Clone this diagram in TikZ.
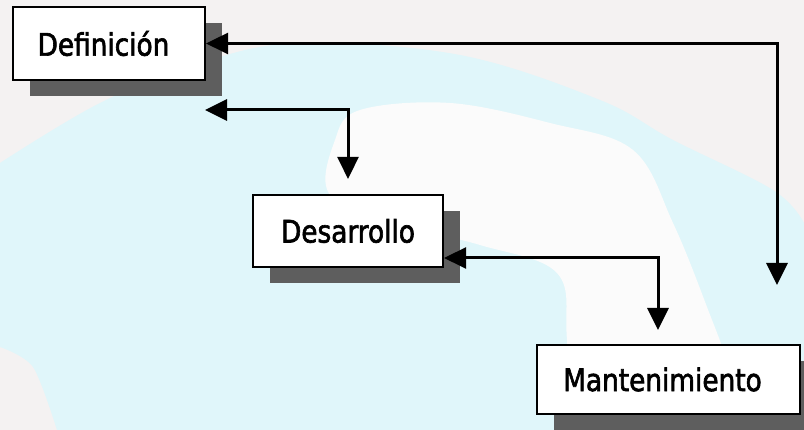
\documentclass[tikz,border=0pt]{standalone}
\usepackage{fontspec}
\newfontfamily\boxfont{DejaVu Sans}[FakeStretch=0.85, FakeBold=2]
\usetikzlibrary{arrows.meta,shadows,calc}
\definecolor{bgc}{HTML}{F4F2F2}
\definecolor{cyanbg}{HTML}{E0F6FA}
\definecolor{swoosh}{HTML}{FBFBFB}
\definecolor{shadowc}{HTML}{5E5E5E}
\tikzset{
  phase/.style={draw=black, line width=2.2pt, fill=white, inner sep=0pt,
    font=\boxfont\fontsize{31}{36}\selectfont,
    drop shadow={shadow xshift=17pt, shadow yshift=-16pt, fill=shadowc, opacity=1}},
  link/.style={line width=3pt, {Triangle[length=22pt,width=21pt]}-{Triangle[length=22pt,width=21pt]}}
}
\begin{document}
\begin{tikzpicture}[x=1pt,y=1pt]
\useasboundingbox (0,0) rectangle (804,-430);
\begin{scope}
\clip (0,0) rectangle (804,-430);
\fill[bgc] (0,0) rectangle (804,-430);
\fill[cyanbg] plot[smooth, tension=0.6] coordinates {(0,-163) (100,-103) (200,-63) (300,-43) (460,-55) (600,-100) (673,-140) (773,-190) (804,-223)}
  -- (810,-440) -- (57,-440) -- plot[smooth] coordinates {(57,-430) (33,-367) (0,-347)} -- cycle;
\fill[swoosh] plot[smooth cycle, tension=0.6] coordinates {(360,-110) (450,-103) (550,-123) (633,-150) (673,-223) (707,-307) (730,-373) (742,-450) (573,-450) (567,-340) (557,-273) (480,-245) (400,-225) (330,-195) (335,-140)};
\end{scope}
\node[phase, minimum width=192pt, minimum height=73pt] (def) at (109,-43.5) {Definición\hspace*{11pt}};
\node[phase, minimum width=190pt, minimum height=72pt] (des) at (348,-231) {Desarrollo};
\node[phase, minimum width=263pt, minimum height=69pt] (man) at (668.5,-379.5) {Mantenimiento\hspace*{12pt}};
\coordinate (c1) at (777,-285);
\coordinate (c2) at (205,-110);
\coordinate (c3) at (658,-330);
\draw[link] (def.east) -| (c1);
\draw[link] (c2) -| ($(des.north)+(0,15)$);
\draw[link] ($(des.east)+(0,-27)$) -| (c3);
\end{tikzpicture}
\end{document}
